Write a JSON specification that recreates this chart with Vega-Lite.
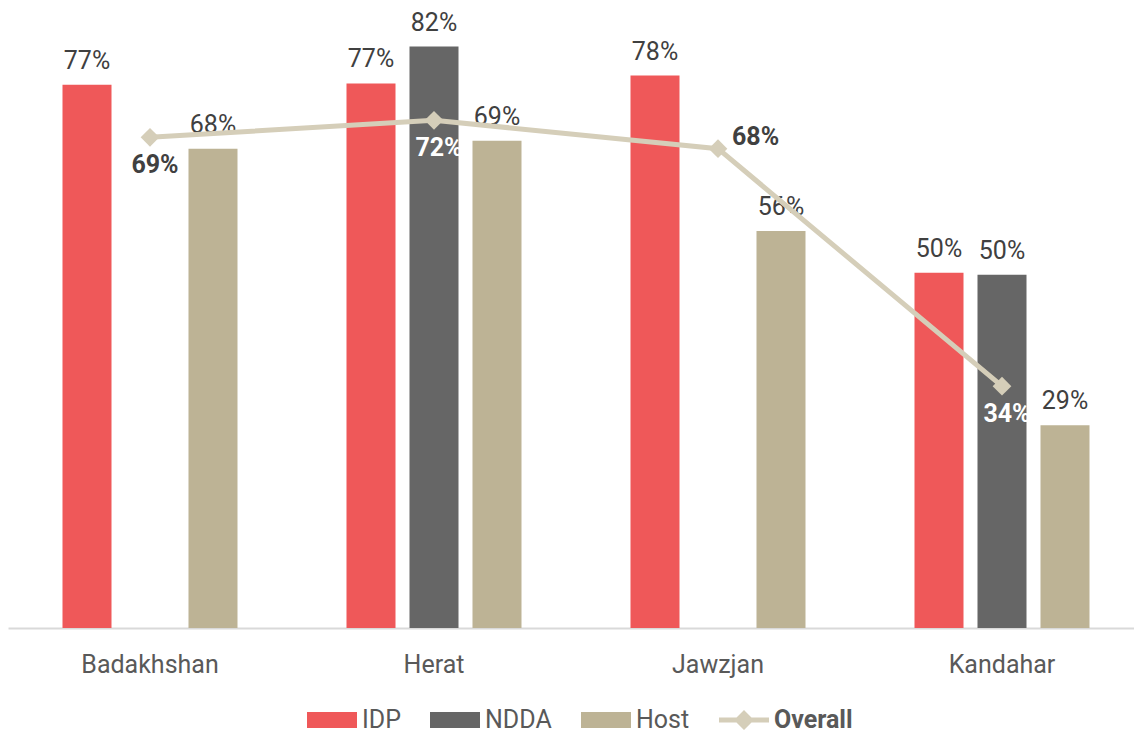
{
  "$schema": "https://vega.github.io/schema/vega-lite/v6.json",
  "width": 1136,
  "height": 624,
  "autosize": {"type": "none"},
  "padding": {"left": 8, "top": 4, "right": 0, "bottom": 109},
  "background": "white",
  "config": {"view": {"stroke": null}, "font": "Roboto"},
  "data": {
    "values": [
      {"region": "Badakhshan", "series": "IDP", "value": 0.766},
      {"region": "Badakhshan", "series": "Host", "value": 0.676},
      {"region": "Herat", "series": "IDP", "value": 0.768},
      {"region": "Herat", "series": "NDDA", "value": 0.82},
      {"region": "Herat", "series": "Host", "value": 0.687},
      {"region": "Jawzjan", "series": "IDP", "value": 0.779},
      {"region": "Jawzjan", "series": "Host", "value": 0.56},
      {"region": "Kandahar", "series": "IDP", "value": 0.501},
      {"region": "Kandahar", "series": "NDDA", "value": 0.498},
      {"region": "Kandahar", "series": "Host", "value": 0.286},
      {"region": "Badakhshan", "series": "Overall", "value": 0.692},
      {"region": "Herat", "series": "Overall", "value": 0.716},
      {"region": "Jawzjan", "series": "Overall", "value": 0.676},
      {"region": "Kandahar", "series": "Overall", "value": 0.341}
    ]
  },
  "encoding": {
    "x": {
      "field": "region",
      "type": "nominal",
      "sort": ["Badakhshan", "Herat", "Jawzjan", "Kandahar"],
      "scale": {"paddingInner": 0, "paddingOuter": 0},
      "axis": {
        "title": null,
        "labelFontSize": 25,
        "labelColor": "#595959",
        "ticks": false,
        "domainColor": "#d9d9d9",
        "domainWidth": 2,
        "labelPadding": 24,
        "labelAngle": 0,
        "grid": false
      }
    },
    "y": {
      "field": "value",
      "type": "quantitative",
      "scale": {"domain": [0, 0.88]},
      "axis": null
    }
  },
  "layer": [
    {
      "transform": [{"filter": "datum.series != 'Overall'"}],
      "mark": {"type": "bar"},
      "encoding": {
        "xOffset": {
          "field": "series",
          "type": "nominal",
          "sort": ["IDP", "NDDA", "Host"],
          "scale": {"paddingInner": 0.222, "paddingOuter": 0.865}
        },
        "color": {
          "field": "series",
          "type": "nominal",
          "scale": {
            "domain": ["IDP", "NDDA", "Host", "Overall"],
            "range": ["#ef5859", "#666666", "#bdb395", "#d5ceb9"]
          },
          "legend": {
            "orient": "none",
            "legendX": 299,
            "legendY": 691,
            "direction": "horizontal",
            "title": null,
            "symbolType": {"expr": "datum.label === 'Overall' ? 'M-1,-0.1H-0.3L0,-0.4L0.3,-0.1H1V0.1H0.3L0,0.4L-0.3,0.1H-1Z' : 'M-1,-0.32H1V0.32H-1Z'"},
            "symbolSize": 2500,
            "symbolStrokeWidth": 0,
            "symbolOpacity": 1,
            "labelFontSize": 25,
            "labelColor": "#595959",
            "labelFontWeight": {"expr": "datum.label === 'Overall' ? 'bold' : 'normal'"},
            "labelOffset": 5,
            "columnPadding": 29
          }
        }
      }
    },
    {
      "transform": [{"filter": "datum.series != 'Overall'"}],
      "mark": {"type": "text", "baseline": "alphabetic", "dy": -16, "fontSize": 25, "color": "#404040"},
      "encoding": {
        "xOffset": {
          "field": "series",
          "type": "nominal",
          "sort": ["IDP", "NDDA", "Host"],
          "scale": {"paddingInner": 0.222, "paddingOuter": 0.865}
        },
        "text": {"field": "value", "type": "quantitative", "format": ".0%"}
      }
    },
    {
      "transform": [{"filter": "datum.series == 'Overall'"}],
      "mark": {
        "type": "line",
        "color": "#d5ceb9",
        "strokeWidth": 5,
        "point": {"shape": "diamond", "size": 350, "filled": true, "color": "#d5ceb9", "opacity": 1}
      },
      "encoding": {}
    },
    {
      "transform": [{"filter": "datum.series == 'Overall' && datum.region != 'Jawzjan'"}],
      "mark": {"type": "text", "baseline": "middle", "dx": 5, "dy": 28, "fontSize": 25, "fontWeight": "bold"},
      "encoding": {
        "text": {"field": "value", "type": "quantitative", "format": ".0%"},
        "color": {"condition": {"test": "datum.region != 'Badakhshan'", "value": "white"}, "value": "#404040"}
      }
    },
    {
      "transform": [{"filter": "datum.series == 'Overall' && datum.region == 'Jawzjan'"}],
      "mark": {"type": "text", "baseline": "middle", "align": "left", "dx": 14, "dy": -12, "fontSize": 25, "fontWeight": "bold", "color": "#404040"},
      "encoding": {
        "text": {"field": "value", "type": "quantitative", "format": ".0%"}
      }
    }
  ]
}
